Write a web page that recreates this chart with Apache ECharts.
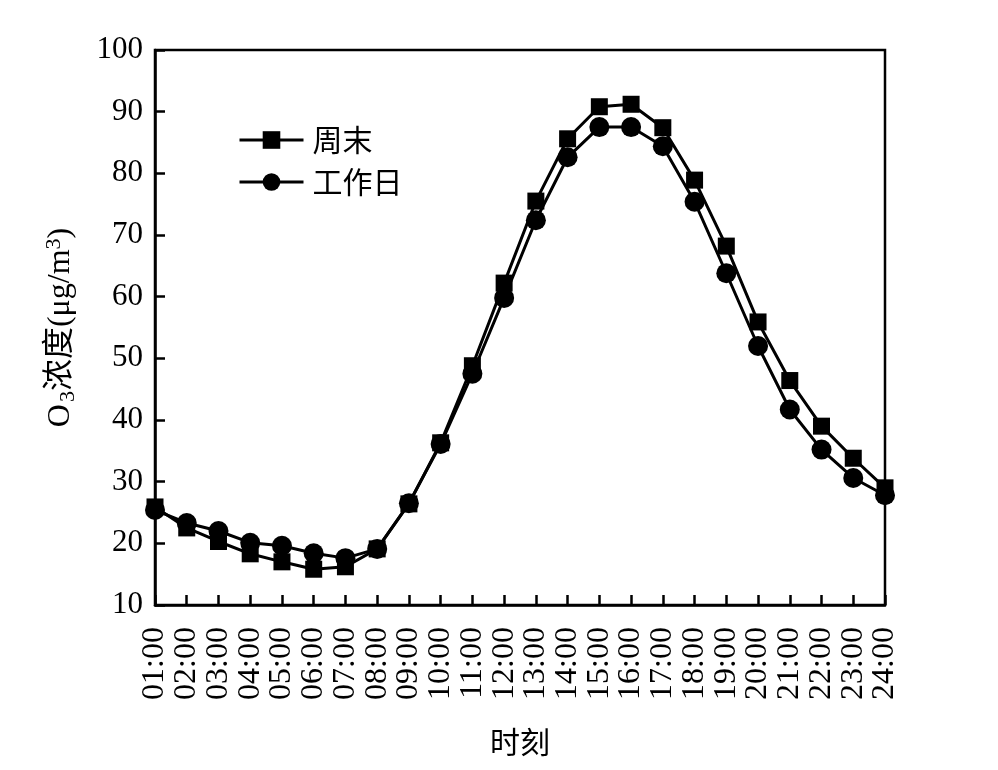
<!DOCTYPE html>
<html><head><meta charset="utf-8">
<script src="https://cdn.jsdelivr.net/npm/echarts@6/dist/echarts.min.js"></script>
<style>html,body{margin:0;padding:0;background:#fff}#c{width:998px;height:770px}</style>
</head><body><div id="c"></div>
<script>
const categories = ['01:00','02:00','03:00','04:00','05:00','06:00','07:00','08:00','09:00','10:00','11:00','12:00','13:00','14:00','15:00','16:00','17:00','18:00','19:00','20:00','21:00','22:00','23:00','24:00'];
const weekend = [25.9,22.5,20.3,18.3,17.0,15.8,16.2,19.1,26.4,36.3,48.8,62.2,75.5,85.6,90.8,91.2,87.4,78.9,68.2,55.9,46.4,39.0,33.8,29.0];
const weekday = [25.4,23.3,22.0,20.1,19.6,18.4,17.6,19.1,26.5,36.1,47.5,59.8,72.4,82.6,87.5,87.5,84.4,75.4,63.8,52.0,41.7,35.2,30.6,27.8];
const yTicks = {min:10, max:100, interval:10};
const seriesNames = ['周末','工作日'];

const serif = '"Liberation Serif","Times New Roman",serif';
const mixed = '"Liberation Serif","Noto Sans CJK SC",serif';
const cjk = '"Noto Sans CJK SC",sans-serif';
const chart = echarts.init(document.getElementById('c'));
chart.setOption({
  animation:false,
  backgroundColor:'#fff',
  grid:{left:155,right:113,top:50,bottom:165,show:true,borderColor:'#000',borderWidth:2.5,containLabel:false},
  legend:{
    left:233, top:120, orient:'vertical', itemWidth:64, itemHeight:22, itemGap:12,
    textStyle:{fontFamily:cjk,fontSize:30,color:'#000',padding:[0,0,0,4]},
    lineStyle:{width:3},
    data:seriesNames
  },
  xAxis:{
    type:'category', data:categories, boundaryGap:false,
    axisLine:{lineStyle:{color:'#000',width:2.5}},
    axisTick:{inside:true,length:10,lineStyle:{color:'#000',width:2.5},alignWithLabel:true},
    axisLabel:{rotate:90,fontFamily:serif,fontSize:32,color:'#000',margin:22,interval:0},
    name:'时刻', nameLocation:'middle', nameGap:122,
    nameTextStyle:{fontFamily:cjk,fontSize:30,color:'#000'}
  },
  yAxis:{
    type:'value', min:yTicks.min, max:yTicks.max, interval:yTicks.interval,
    splitLine:{show:false},
    axisLine:{show:true,lineStyle:{color:'#000',width:2.5}},
    axisTick:{show:true,inside:true,length:10,lineStyle:{color:'#000',width:2.5}},
    axisLabel:{fontFamily:serif,fontSize:31,color:'#000',margin:12},
    name:'O{sub|3}浓度(μg/m{sup|3})', nameLocation:'middle', nameGap:76, nameRotate:90,
    nameTextStyle:{fontFamily:mixed,fontSize:32,color:'#000',
      rich:{sub:{fontFamily:serif,fontSize:22,verticalAlign:'bottom',padding:[12,0,0,2]},
            sup:{fontFamily:serif,fontSize:22,verticalAlign:'top',padding:[0,0,14,0]}}}
  },
  series:[
    {name:seriesNames[0],type:'line',data:weekend,symbol:'rect',symbolSize:17,
     lineStyle:{color:'#000',width:3},itemStyle:{color:'#000'}},
    {name:seriesNames[1],type:'line',data:weekday,symbol:'circle',symbolSize:20,
     lineStyle:{color:'#000',width:3},itemStyle:{color:'#000'}}
  ]
});
</script></body></html>
